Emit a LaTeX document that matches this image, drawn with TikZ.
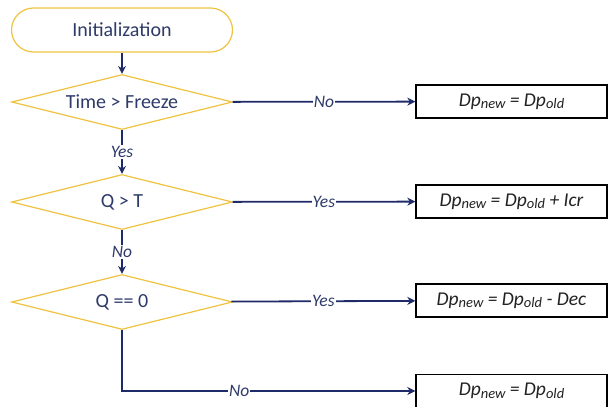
\documentclass[tikz,border=0pt]{standalone}
\usepackage{fontspec}
\setmainfont{Carlito}
\usetikzlibrary{shapes.geometric,arrows.meta}
\definecolor{gold}{HTML}{EFC33F}
\definecolor{navy}{HTML}{1F2A68}
\definecolor{ink}{HTML}{2E3A6A}
\definecolor{boxtext}{HTML}{222222}
\newcommand\lowtxt[1]{\raisebox{-2.8pt}{\fontsize{14.5}{14.5}\selectfont #1}}
\tikzset{
  terminal/.style={draw=gold, line width=1.2pt, rounded corners=22pt, fill=white,
    minimum width=221pt, minimum height=44pt, text=ink, font=\fontsize{20}{20}\selectfont},
  decision/.style={diamond, aspect=4, draw=gold, line width=1.2pt, fill=white, inner sep=0pt,
    minimum width=221pt, minimum height=55pt, text=ink, font=\fontsize{20}{20}\selectfont},
  action/.style={draw=black, line width=1.4pt, fill=white, minimum width=191pt,
    minimum height=33pt, text=boxtext, font=\fontsize{19.5}{19.5}\selectfont\itshape},
  flow/.style={draw=navy, line width=1.8pt, -{Stealth[length=8pt,width=8pt]}},
  answer/.style={fill=white, inner sep=1pt, text=ink, font=\fontsize{17.5}{17.5}\selectfont\itshape}
}
\begin{document}
\begin{tikzpicture}[x=1pt,y=-1pt]
\useasboundingbox (0,0) rectangle (608,407);
\begin{scope}
\clip (0,0) rectangle (608,407);
\node[terminal] (init) at (122,30) {Initialization};
\node[decision] (d1) at (122,102) {Time > Freeze};
\node[decision] (d2) at (122,202) {Q > T};
\node[decision] (d3) at (122,302) {Q == 0};
\node[action] (b1) at (511.5,101.5) {Dp\lowtxt{new} = Dp\lowtxt{old}};
\node[action] (b2) at (511.5,201.5) {Dp\lowtxt{new} = Dp\lowtxt{old} + Icr};
\node[action] (b3) at (511.5,300.5) {Dp\lowtxt{new} = Dp\lowtxt{old} - Dec};
\node[action] (b4) at (511.5,391) {Dp\lowtxt{new} = Dp\lowtxt{old}};

\draw[flow] (init) -- (d1);
\draw[flow] (d1) -- node[answer] {No} (b1);
\draw[flow] (d1) -- node[answer] {Yes} (d2);
\draw[flow] (d2) -- node[answer] {Yes} (b2);
\draw[flow] (d2) -- node[answer] {No} (d3);
\draw[flow] (d3) -- node[answer] {Yes} (b3);
\draw[flow] (d3.south) |- node[answer, pos=0.7] {No} (b4.west);
\end{scope}
\end{tikzpicture}
\end{document}
